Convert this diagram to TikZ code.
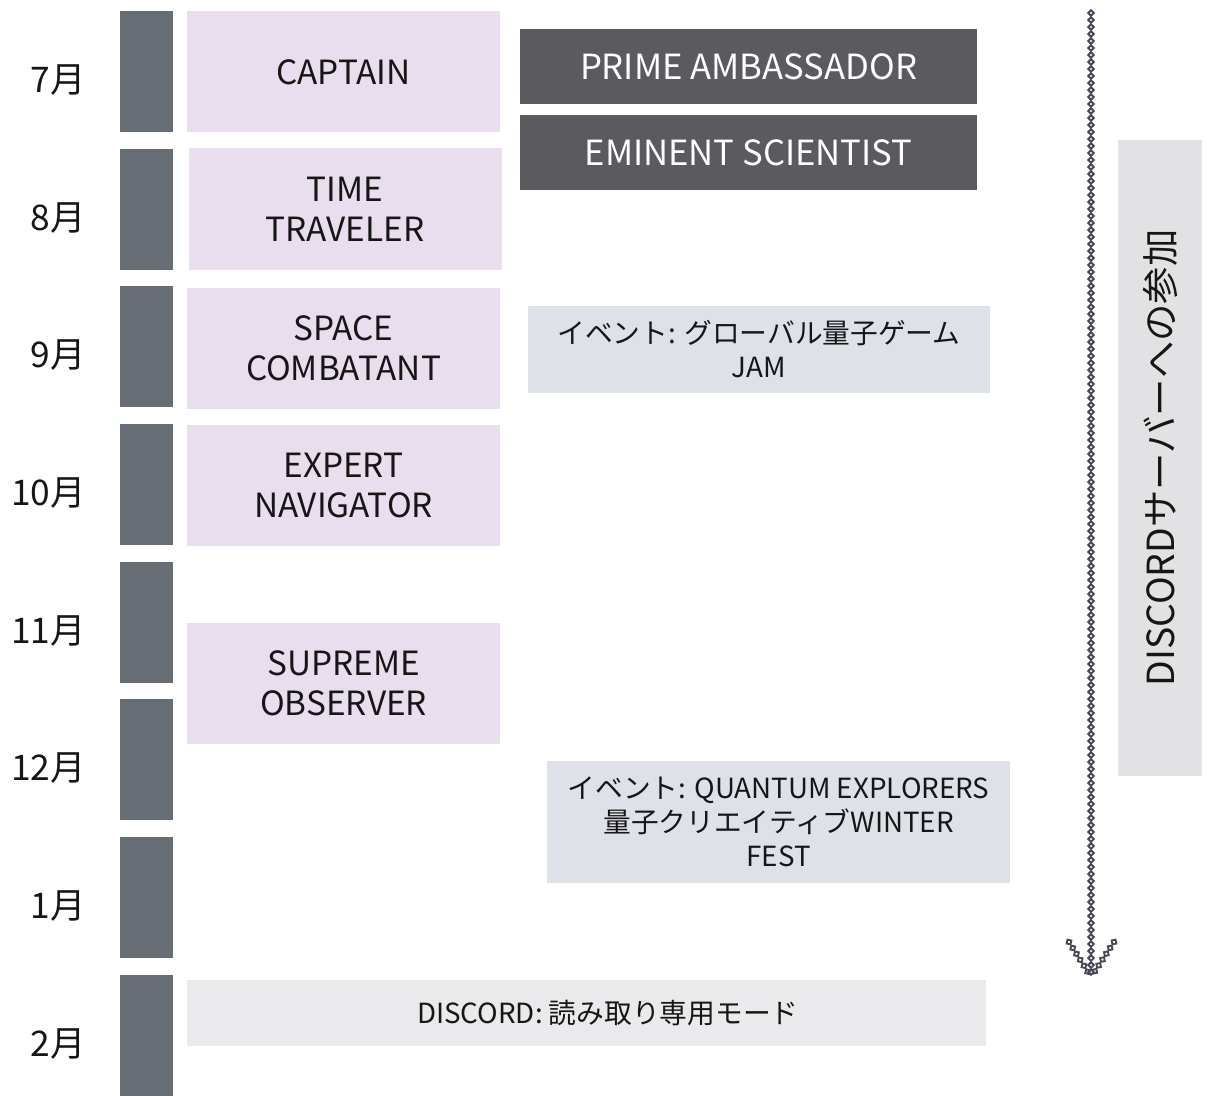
\documentclass[tikz,border=0pt]{standalone}
\usepackage{fontspec}
\setmainfont{Noto Sans CJK JP}
\usetikzlibrary{decorations.markings}

\definecolor{monthgray}{HTML}{676D74}
\definecolor{rolelilac}{HTML}{E8DEED}
\definecolor{rankdark}{HTML}{5A5A5F}
\definecolor{eventgray}{HTML}{DFE1E8}
\definecolor{readgray}{HTML}{EAEAEC}
\definecolor{joingray}{HTML}{E2E1E4}
\definecolor{chaincol}{HTML}{4B4558}
\definecolor{inkcol}{HTML}{161616}

\begin{document}
\begin{tikzpicture}[x=0.75pt,y=0.75pt,yscale=-1,xscale=1,
  monthbar/.style={fill=monthgray,minimum width=39.75pt,minimum height=90.75pt,inner sep=0pt},
  monthlabel/.style={text=inkcol,font=\fontsize{26.5}{28}\selectfont,inner sep=0pt,anchor=east},
  rolebox/.style={fill=rolelilac,text=inkcol,minimum width=234.75pt,minimum height=90.75pt,inner sep=0pt,align=center,font=\fontsize{25}{30}\selectfont},
  rankbox/.style={fill=rankdark,text=white,minimum width=342.75pt,minimum height=56.25pt,inner sep=0pt,align=center,font=\fontsize{26}{30}\selectfont},
  eventbox/.style={fill=eventgray,text=inkcol,inner sep=0pt,align=center,font=\fontsize{20.8}{25.5}\selectfont},
  chain/.style={decoration={markings,mark=between positions 0 and 1 step 5.25pt with {\draw[chaincol,line width=1.4pt] (0pt,-2.1pt) -- (2.1pt,0pt) -- (0pt,2.1pt) -- (-2.1pt,0pt) -- cycle;}},postaction={decorate}}
]
\useasboundingbox (0,0) rectangle (1209,1095);

%Month bars and labels
\foreach \mon [count=\i from 0] in {7,8,9,10,11,12,1,2}{
  \node[monthbar] (bar\mon) at (146.5,{71.5+137.65*\i}) {};
  \node[monthlabel] (lab\mon) at (86,{80+137.65*\i}) {{\mon}月};
}

%Roles
\node[rolebox] (captain) at (343.5,72) {CAPTAIN};
\node[rolebox] (traveler) at (345,209) {TIME\\TRAVELER};
\node[rolebox] (combatant) at (343.5,348) {SPACE\\COMBATANT};
\node[rolebox] (navigator) at (343.5,485) {EXPERT\\NAVIGATOR};
\node[rolebox] (observer) at (343.5,683) {SUPREME\\OBSERVER};

%Top ranks
\node[rankbox] (ambassador) at (748.5,66.5) {PRIME AMBASSADOR};
\node[rankbox] (scientist) at (748.5,152.5) {EMINENT SCIENTIST};

%Events
\node[eventbox,minimum width=346.5pt,minimum height=65.25pt] (gamejam) at (759,349.5) {イベント: グローバル量子ゲーム\\JAM};
\node[eventbox,minimum width=347.25pt,minimum height=91.5pt] (winterfest) at (778.5,822) {イベント: QUANTUM EXPLORERS\\量子クリエイティブWINTER\\FEST};
\node[eventbox,fill=readgray,minimum width=599.25pt,minimum height=49.5pt] (readonly) at (586.5,1013) {\hspace*{32pt}DISCORD: 読み取り専用モード};

%Server join
\node[fill=joingray,minimum width=63pt,minimum height=477pt,inner sep=0pt] (joinbox) at (1160,458) {};
\node[text=inkcol,rotate=90,font=\fontsize{28}{30}\selectfont,inner sep=0pt] (jointext) at (joinbox.center) {DISCORDサーバーへの参加};

%Chain arrow
\coordinate (joinTop) at (1091,13);
\coordinate (joinTip) at (1091,977);
\coordinate (barbL) at (1069,942);
\coordinate (barbR) at (1114,942);
\path[chain] (joinTop) -- (joinTip);
\path[chain] (barbL) -- (joinTip);
\path[chain] (barbR) -- (joinTip);

\end{tikzpicture}
\end{document}
